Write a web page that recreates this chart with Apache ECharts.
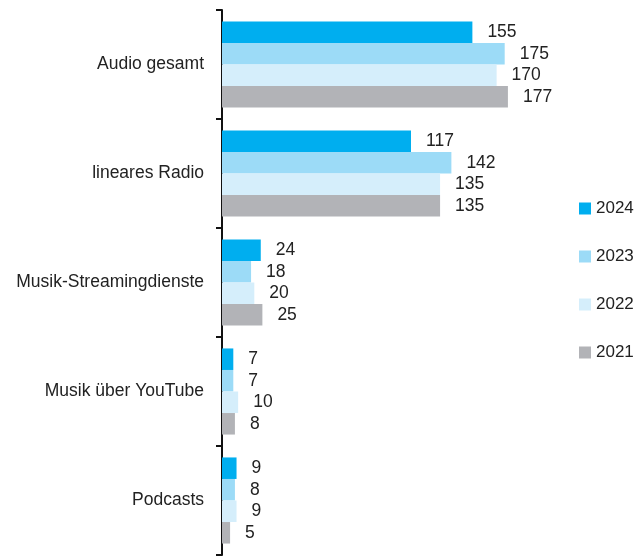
<!DOCTYPE html>
<html>
<head>
<meta charset="utf-8">
<script src="https://cdn.jsdelivr.net/npm/echarts@6/dist/echarts.min.js"></script>
<style>
  html, body { margin: 0; padding: 0; background: #fff; }
  #chart { width: 635px; height: 558px; }
</style>
</head>
<body>
<div id="chart"></div>
<script>
const categories = ["Audio gesamt", "lineares Radio", "Musik-Streamingdienste", "Musik über YouTube", "Podcasts"];
const years = ["2024", "2023", "2022", "2021"];
const values2024 = [155, 117, 24, 7, 9];
const values2023 = [175, 142, 18, 7, 8];
const values2022 = [170, 135, 20, 10, 9];
const values2021 = [177, 135, 25, 8, 5];
const colors = ["#00aeef", "#9cdbf7", "#d5eefb", "#b2b3b7"];

const fontFamily = "'Liberation Sans', Arial, sans-serif";
const chart = echarts.init(document.getElementById("chart"));

const seriesData = [values2024, values2023, values2022, values2021];

const option = {
  animation: false,
  textStyle: { fontFamily: fontFamily },
  legend: {
    orient: "vertical",
    left: 579,
    top: 200,
    padding: 0,
    itemWidth: 12,
    itemHeight: 12,
    itemGap: 31,
    icon: "rect",
    textStyle: { fontSize: 17, lineHeight: 14, color: "#222", fontFamily: fontFamily },
    data: years,
  },
  grid: {
    left: 222,
    right: 14,
    top: 10,
    bottom: 3,
    outerBoundsMode: "none",
    containLabel: false,
  },
  xAxis: {
    type: "value",
    min: 0,
    max: 247,
    show: false,
  },
  yAxis: {
    type: "category",
    inverse: true,
    data: categories,
    axisLine: { show: true, lineStyle: { color: "#111", width: 2 } },
    axisTick: { show: true, inside: false, length: 6, lineStyle: { color: "#111", width: 2 } },
    axisLabel: { fontSize: 17.5, color: "#222", margin: 18, fontFamily: fontFamily },
  },
  series: years.map((y, i) => ({
    name: y,
    type: "bar",
    data: seriesData[i],
    barGap: "0%",
    barCategoryGap: "21%",
    itemStyle: { color: colors[i] },
    label: {
      show: true,
      position: "right",
      distance: 15,
      fontSize: 17.5,
      color: "#222",
      fontFamily: fontFamily,
    },
  })),
};

chart.setOption(option);
</script>
</body>
</html>
